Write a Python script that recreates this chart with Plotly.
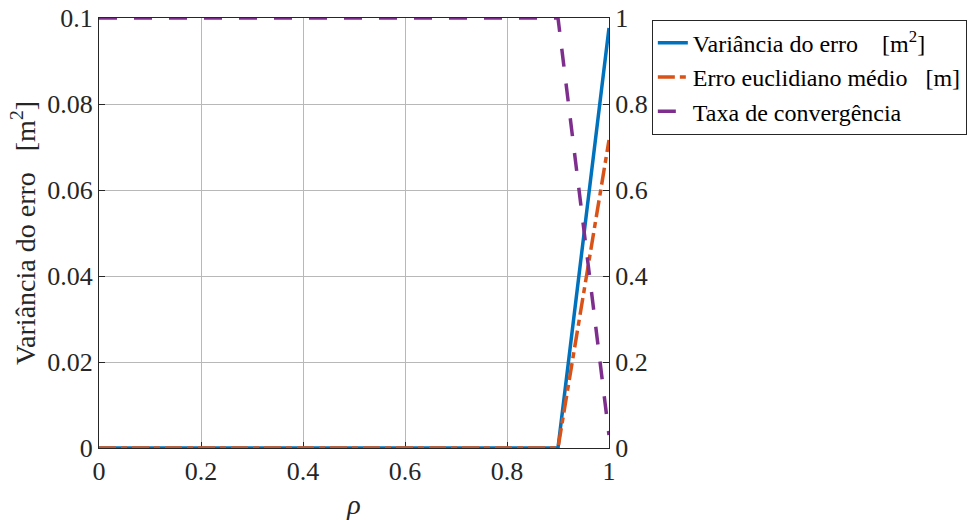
import plotly.graph_objects as go

rho = [0, 0.1, 0.2, 0.3, 0.4, 0.5, 0.6, 0.7, 0.8, 0.9, 1.0]
variancia = [0, 0, 0, 0, 0, 0, 0, 0, 0, 0, 0.0977]
erro_medio = [0, 0, 0, 0, 0, 0, 0, 0, 0, 0, 0.0716]
taxa_conv = [1, 1, 1, 1, 1, 1, 1, 1, 1, 1, 0.03]

xticks = [0, 0.2, 0.4, 0.6, 0.8, 1]
yticks_left = [0, 0.02, 0.04, 0.06, 0.08, 0.1]
yticks_right = [0, 0.2, 0.4, 0.6, 0.8, 1]

FONT = "Liberation Serif"
NB = "\u00a0"
TXT = "#262626"
GRID = "#b8b8b8"

fig = go.Figure()
fig.add_trace(go.Scatter(
    x=rho, y=variancia, mode="lines",
    name="Variância do erro" + NB * 4 + "[m<sup>2</sup>]",
    line=dict(color="#0072BD", width=3.5),
    cliponaxis=False,
))
fig.add_trace(go.Scatter(
    x=rho, y=erro_medio, mode="lines",
    name="Erro euclidiano médio" + NB * 3 + "[m]",
    line=dict(color="#D95319", width=3.5, dash="17px,5px,6px,5px"),
    cliponaxis=False,
))
fig.add_trace(go.Scatter(
    x=rho, y=taxa_conv, mode="lines", yaxis="y2",
    name="Taxa de convergência",
    line=dict(color="#7E2F8E", width=3.5, dash="18px,17px"),
    cliponaxis=False,
))

fig.update_layout(
    width=974, height=520,
    margin=dict(l=99, r=365, t=18, b=72, autoexpand=False),
    paper_bgcolor="white", plot_bgcolor="white",
    font=dict(family=FONT, size=26, color=TXT),
    showlegend=True,
    legend=dict(
        x=1.084, y=0.996, xanchor="left", yanchor="top",
        bordercolor=TXT, borderwidth=1, bgcolor="white",
        font=dict(family=FONT, size=24, color="black"),
        itemwidth=30, tracegroupgap=0,
    ),
    xaxis=dict(
        range=[0, 1], tickvals=xticks, ticktext=[f"{v:g}" for v in xticks],
        ticks="inside", ticklen=6, tickcolor=TXT,
        showline=True, linecolor=TXT, linewidth=1, mirror=True,
        showgrid=True, gridcolor=GRID, gridwidth=1, zeroline=False,
        layer="below traces", automargin=False,
        title=dict(text="<i>ρ</i>", font=dict(family=FONT, size=28, color=TXT), standoff=16),
        tickfont=dict(family=FONT, size=26, color=TXT),
    ),
    yaxis=dict(
        range=[0, 0.1], tickvals=yticks_left, ticktext=[f"{v:g}" for v in yticks_left],
        ticks="inside", ticklen=6, tickcolor=TXT,
        showline=True, linecolor=TXT, linewidth=1,
        showgrid=True, gridcolor=GRID, gridwidth=1, zeroline=False,
        layer="below traces", automargin=False,
        title=dict(text="Variância do erro" + NB * 3 + "[m<sup>2</sup>]",
                   font=dict(family=FONT, size=28, color=TXT), standoff=3),
        tickfont=dict(family=FONT, size=26, color=TXT),
    ),
    yaxis2=dict(
        range=[0, 1], tickvals=yticks_right, ticktext=[f"{v:g}" for v in yticks_right],
        overlaying="y", side="right",
        ticks="inside", ticklen=6, tickcolor=TXT,
        showline=True, linecolor=TXT, linewidth=1,
        showgrid=False, zeroline=False, layer="below traces", automargin=False,
        tickfont=dict(family=FONT, size=26, color=TXT),
    ),
)

fig.write_html("out.html", config={"displayModeBar": False},
               post_script="document.body.style.margin='0';")
